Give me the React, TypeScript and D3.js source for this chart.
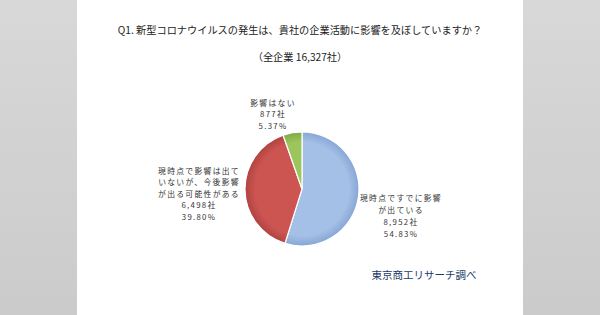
import React from "react";
import * as d3 from "d3";

const categories = ["現時点ですでに影響が出ている", "現時点で影響は出ていないが、今後影響が出る可能性がある", "影響はない"];
const counts = [8952, 6498, 877];
const percents = ["54.83%", "39.80%", "5.37%"];
const countLabels = ["8,952社", "6,498社", "877社"];
const labelLines = [
  ["現時点ですでに影響", "が出ている"],
  ["現時点で影響は出て", "いないが、今後影響", "が出る可能性がある"],
  ["影響はない"],
];
const title = "Q1. 新型コロナウイルスの発生は、貴社の企業活動に影響を及ぼしていますか？";
const subtitle = "（全企業 16,327社）";
const source = "東京商工リサーチ調べ";

const W = 600, H = 315;
const cx = 302, cy = 189, R = 57;
const colors = ["#a5c0e6", "#cc5552", "#9cc65c"];
const dark = ["#86a6d6", "#b04340", "#80aa46"];
const labelPos = [
  { x: 401, y: 201, dy: 12 },
  { x: 199, y: 173.5, dy: 11.5 },
  { x: 273, y: 105.5, dy: 11.6 },
];
const font = "'Noto Sans CJK JP', sans-serif";

export default function App() {
  const pie = d3.pie<number>().sort(null).value((d) => d)(counts);
  const arc = d3.arc<d3.PieArcDatum<number>>().innerRadius(0).outerRadius(R);
  return (
    <svg width={W} height={H} style={{ position: "absolute", left: 0, top: 0 }} fontFamily={font}>
      <defs>
        <linearGradient id="side" x1="0" y1="0" x2="0" y2="1">
          <stop offset="0" stopColor="#d8d8d8" />
          <stop offset="1" stopColor="#cbcbcb" />
        </linearGradient>
        {colors.map((c, i) => (
          <radialGradient key={i} id={"g" + i} cx={0} cy={0} r={R} gradientUnits="userSpaceOnUse">
            <stop offset="0" stopColor={c} />
            <stop offset="0.82" stopColor={c} />
            <stop offset="1" stopColor={dark[i]} />
          </radialGradient>
        ))}
      </defs>
      <rect x={0} y={0} width={W} height={H} fill="url(#side)" />
      <rect x={77} y={0} width={446} height={H} fill="#ffffff" />
      <text x={300} y={34} textAnchor="middle" fontSize={10.2} fill="#222">{title}</text>
      <text x={300} y={61} textAnchor="middle" fontSize={10.2} fill="#222">{subtitle}</text>
      <g transform={`translate(${cx},${cy})`}>
        {pie.map((p, i) => (
          <path key={i} d={arc(p) || ""} fill={`url(#g${i})`} stroke="#ffffff" strokeWidth={1.2} />
        ))}
      </g>
      {labelLines.map((lines, i) => {
        const all = [...lines, countLabels[i], percents[i]];
        return (
          <text key={i} x={labelPos[i].x} y={labelPos[i].y} textAnchor="middle" fontSize={7.8} letterSpacing={1.3} fill="#333">
            {all.map((t, j) => (
              <tspan key={j} x={labelPos[i].x} dy={j === 0 ? 0 : labelPos[i].dy}>{t}</tspan>
            ))}
          </text>
        );
      })}
      <text x={424} y={279} textAnchor="middle" fontSize={10.5} fill="#1a3a6a">{source}</text>
    </svg>
  );
}
